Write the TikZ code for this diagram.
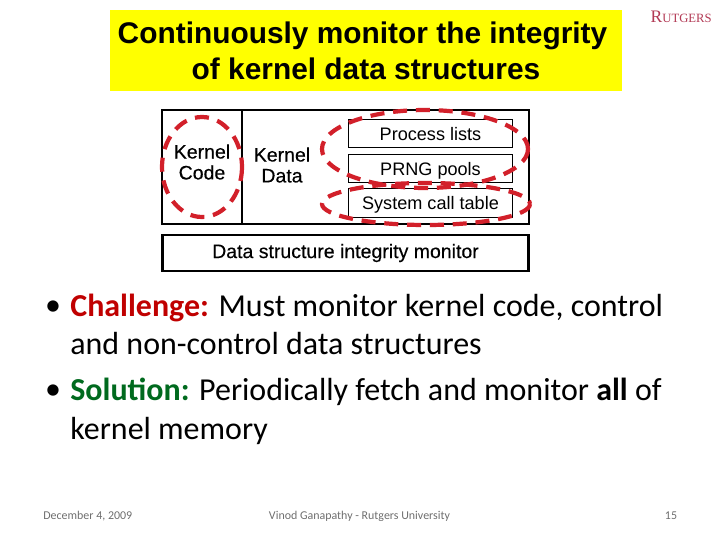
\documentclass[tikz,border=0pt]{standalone}
\usepackage{fontspec}
\usepackage{xcolor}
\setmainfont{Carlito}
\newfontfamily\arialfont{Liberation Sans}
\newfontfamily\semifont[FakeBold=0.35]{Liberation Sans}
\newfontfamily\logofont{Liberation Serif}
\definecolor{banner}{HTML}{FFFF00}
\definecolor{loopred}{HTML}{D2202A}
\definecolor{challenge}{HTML}{C00000}
\definecolor{solution}{HTML}{006A1E}
\definecolor{crest}{HTML}{B23A55}
\definecolor{footgray}{HTML}{6E6E6E}
\tikzset{
  boxtext/.style={font=\semifont\fontsize{11.1}{11.9}\selectfont,align=center,inner sep=0pt},
  poolbox/.style={draw,line width=0.5pt,minimum width=93.5pt,minimum height=16.2pt,inner sep=0pt,text height=9pt,text depth=1.4pt,font=\arialfont\fontsize{10.3}{12}\selectfont},
  watchloop/.style={draw=loopred,line width=2.4pt,dash pattern=on 8pt off 5pt},
  bodyline/.style={anchor=west,inner sep=0pt,text height=11pt,text depth=3pt,font=\fontsize{18.2}{22}\selectfont},
  footline/.style={font=\fontsize{6.8}{8}\selectfont,text=footgray,inner sep=0pt,text height=4.6pt,text depth=1.4pt},
}
\begin{document}
\begin{tikzpicture}[x=0.02cm,y=-0.02cm]
\useasboundingbox (0,0) rectangle (720,540);
% title
\node[fill=banner,minimum width=291pt,minimum height=46pt,inner sep=0pt,align=center,font=\arialfont\bfseries\fontsize{17}{20.4}\selectfont] (title) at (366,50.5) {Continuously monitor the integrity\rule{4pt}{0pt}\\of kernel data structures};
\node[anchor=east,inner sep=0pt,text=crest,font=\logofont] (logo) at (712,17) {\fontsize{10}{10}\selectfont R\fontsize{7.2}{10}\selectfont UTGERS};
% memory box
\draw[line width=1.6pt] (162,110) rectangle (529,224);
\draw[line width=0.9pt] (242,110) -- (242,224);
\node[boxtext] (kcode) at (202,162) {Kernel\\Code};
\node[boxtext] (kdata) at (282,165) {Kernel\\Data};
\node[poolbox] (plists) at (430.5,133.5) {Process lists};
\node[poolbox] (prng) at (430.5,168.5) {PRNG pools};
\node[poolbox] (syscall) at (430.5,203) {System call table};
\draw[watchloop] (202,167) ellipse [x radius=40,y radius=50];
\draw[watchloop] (425,149) ellipse [x radius=103,y radius=39];
\draw[watchloop] (426,204) ellipse [x radius=104,y radius=21];
% monitor box
\node[draw,line width=1.6pt,minimum width=208pt,minimum height=20.4pt,inner sep=0pt,font=\semifont\fontsize{11.1}{12}\selectfont] (monitor) at (345.5,253) {Data structure integrity monitor};
% bullets
\node[inner sep=0pt,font=\fontsize{18.2}{22}\selectfont] (bulleta) at (53,308) {•};
\node[bodyline] (chal) at (70,309) {\textbf{\textcolor{challenge}{Challenge:}} Must monitor kernel code, control};
\node[bodyline] (chalb) at (70,347) {and non-control data structures};
\node[inner sep=0pt,font=\fontsize{18.2}{22}\selectfont] (bulletb) at (53,392) {•};
\node[bodyline] (solu) at (70,393) {\textbf{\textcolor{solution}{Solution:}} Periodically fetch and monitor \textbf{all} of};
\node[bodyline] (solub) at (70,432) {kernel memory};
% footer
\node[footline,anchor=west] (fdate) at (43,516.5) {December 4, 2009};
\node[footline] (fname) at (359.5,516.5) {Vinod Ganapathy - Rutgers University};
\node[footline] (fpage) at (671,516.5) {15};
\end{tikzpicture}
\end{document}
